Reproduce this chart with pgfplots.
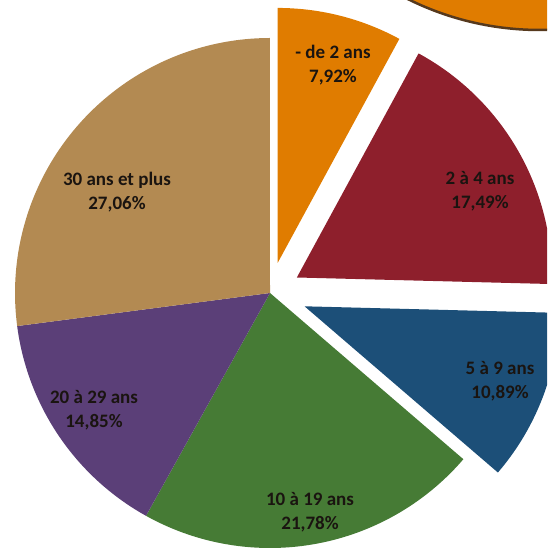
\documentclass[border=0pt]{standalone}
\usepackage{pgfplots}
\pgfplotsset{compat=1.18}
\usepackage{fontspec}
\setmainfont{Carlito}

\definecolor{cOrange}{HTML}{E07C00}
\definecolor{cRed}{HTML}{8E1F2C}
\definecolor{cBlue}{HTML}{1C4F78}
\definecolor{cGreen}{HTML}{467B35}
\definecolor{cPurple}{HTML}{5B3F78}
\definecolor{cTan}{HTML}{B38A52}
\definecolor{cLabel}{HTML}{1A1410}

% centre and radius of the pie, in picture pixels
\def\cx{270}
\def\cy{255}
\def\R{255}

% shares (%), clockwise from 12 o'clock
\pgfmathsetmacro\aA{90}
\pgfmathsetmacro\aB{\aA-3.6*7.92}
\pgfmathsetmacro\aC{\aB-3.6*17.49}
\pgfmathsetmacro\aD{\aC-3.6*10.89}
\pgfmathsetmacro\aE{\aD-3.6*21.78}
\pgfmathsetmacro\aF{\aE-3.6*14.85}
\pgfmathsetmacro\aG{\aF-3.6*27.06}

% #1 start angle, #2 end angle, #3 explosion, #4 colour
\newcommand\pieslice[4]{%
  \addplot[fill=#4, draw=none, domain=#2:#1, samples=90, variable=\t]
    ({\cx+#3*cos((#1+#2)/2)+\R*cos(\t)}, {\cy+#3*sin((#1+#2)/2)+\R*sin(\t)})
    -- (axis cs:{\cx+#3*cos((#1+#2)/2)},{\cy+#3*sin((#1+#2)/2)}) -- cycle;
}

\begin{document}
\begin{tikzpicture}
\useasboundingbox (0,0) rectangle (547pt,548pt);
\begin{axis}[
    at={(0,0)}, anchor=south west,
    x=1pt, y=1pt,
    xmin=0, xmax=547, ymin=0, ymax=548,
    hide axis, clip=true,
    nodes={font=\fontsize{19}{24}\selectfont\bfseries, text=cLabel, align=center}
]
    % piece of the next graphic, top right
    \fill[cOrange, draw=black!55!brown, line width=2.5pt] (axis cs:540,815) circle[radius=297pt];

    \pieslice{\aA}{\aB}{31}{cOrange}
    \pieslice{\aB}{\aC}{31}{cRed}
    \pieslice{\aC}{\aD}{37}{cBlue}
    \pieslice{\aD}{\aE}{0}{cGreen}
    \pieslice{\aE}{\aF}{0}{cPurple}
    \pieslice{\aF}{\aG}{0}{cTan}

    \node at (axis cs:333,483) {- de 2 ans\\7,92\%};
    \node at (axis cs:480,357) {2 à 4 ans\\17,49\%};
    \node at (axis cs:500,167) {5 à 9 ans\\10,89\%};
    \node at (axis cs:310,36) {10 à 19 ans\\21,78\%};
    \node at (axis cs:94,138) {20 à 29 ans\\14,85\%};
    \node at (axis cs:117,356) {30 ans et plus\\27,06\%};
\end{axis}
\end{tikzpicture}
\end{document}
